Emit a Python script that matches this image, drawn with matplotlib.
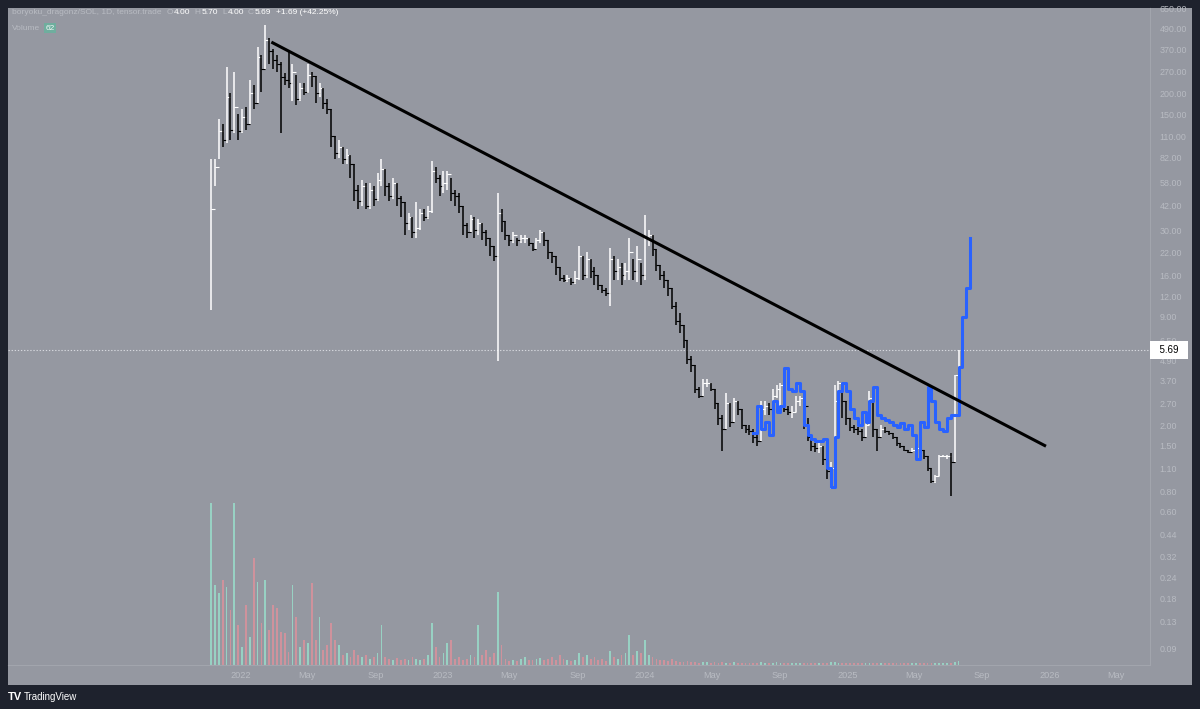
import numpy as np
import pandas as pd
import matplotlib
matplotlib.use("Agg")
import matplotlib.pyplot as plt
import matplotlib.dates as mdates
from matplotlib.collections import LineCollection
from matplotlib.patches import Rectangle
from matplotlib.ticker import NullLocator
import matplotlib.transforms as mtransforms

plt.rcParams["font.family"] = ["Liberation Sans", "DejaVu Sans"]

# weekly closes / lows / highs of boryoku_dragonz/SOL
week_start = "2021-11-08"
closes = [
    40, 72, 118, 105, 190, 120, 165, 118, 145, 130,
    200, 175, 330, 280, 420, 360, 320, 300, 250, 240,
    230, 270, 185, 215, 205, 260, 255, 200, 215, 175,
    160, 110, 88, 95, 80, 85, 75, 52, 45, 55,
    42, 52, 46, 60, 70, 55, 48, 58, 47, 44,
    33, 36, 29, 31, 38, 36, 39, 68, 62, 55,
    58, 65, 50, 48, 42, 32, 29, 35, 30, 33,
    29, 27, 24, 21, 38, 34, 28, 26, 28, 26,
    27, 27, 25, 23, 26, 29, 26, 22, 21, 18,
    15.5, 15, 15.5, 14.5, 15.5, 21, 16, 20, 17, 16,
    14, 13, 12.5, 20, 17, 18, 16, 17, 22, 17,
    20, 16, 27, 28, 23, 18.5, 16, 15, 13.5, 10.5,
    8.5, 8, 6.5, 5, 4.6, 3.3, 3.0, 3.6, 3.6, 3.3,
    2.7, 2.2, 1.9, 2.7, 2.1, 2.8, 2.5, 2.0, 1.9, 1.85,
    1.7, 1.6, 2.5, 2.6, 2.5, 3.0, 3.3, 3.5, 2.5, 2.4,
    2.4, 2.8, 2.9, 2.6, 1.7, 1.5, 1.45, 1.5, 1.25, 1.05,
    1.1, 2.8, 3.6, 2.8, 2.2, 1.95, 1.9, 1.85, 1.7, 2.0,
    2.9, 1.9, 1.7, 1.9, 1.85, 1.8, 1.7, 1.55, 1.5, 1.42,
    1.38, 1.42, 1.45, 1.42, 1.3, 1.1, 0.92, 0.98, 1.3, 1.3,
    1.3, 1.2, 4.0, 5.69,
]
lows = [
    9.9, 55, 80, 95, 100, 105, 115, 105, 115, 120,
    130, 160, 175, 205, 280, 300, 280, 270, 115, 225,
    215, 180, 170, 180, 195, 200, 220, 175, 190, 160,
    150, 95, 80, 82, 75, 75, 62, 45, 40, 42,
    40, 40, 42, 45, 55, 48, 45, 46, 42, 36,
    28, 30, 27, 27, 30, 34, 35, 38, 58, 48,
    50, 52, 45, 42, 38, 28, 27, 29, 27, 28,
    26, 24, 21, 19.5, 4.9, 29, 26, 24, 25, 24,
    25, 25, 24, 22.5, 23, 25, 24, 20, 19, 16,
    14.8, 14.5, 14.5, 14, 14.2, 15, 15, 15.5, 15.5, 14,
    13, 12.5, 12, 10.5, 15, 15, 14, 15, 15, 15,
    14.5, 14, 15, 24, 21, 17, 15, 13.5, 12, 10,
    8, 7.2, 5.8, 4.7, 4.2, 3.1, 2.9, 3.0, 3.4, 3.2,
    2.5, 2.0, 1.4, 1.9, 1.95, 2.1, 2.3, 1.9, 1.8, 1.75,
    1.55, 1.5, 1.6, 2.3, 2.3, 2.5, 2.9, 2.5, 2.4, 2.3,
    2.2, 2.4, 2.6, 1.9, 1.6, 1.4, 1.38, 1.35, 1.15, 0.95,
    0.82, 1.1, 2.8, 2.2, 2.0, 1.85, 1.8, 1.75, 1.6, 1.7,
    2.0, 1.7, 1.4, 1.7, 1.8, 1.75, 1.65, 1.5, 1.45, 1.4,
    1.36, 1.38, 1.4, 1.38, 1.25, 1.05, 0.9, 0.9, 0.98, 1.28,
    1.25, 0.75, 1.2, 4.0,
]
highs = [
    80, 80, 140, 130, 290, 200, 270, 150, 160, 165,
    240, 225, 380, 340, 520, 430, 370, 340, 310, 265,
    360, 300, 260, 230, 230, 300, 270, 255, 230, 215,
    185, 160, 110, 105, 95, 92, 85, 75, 56, 60,
    58, 58, 55, 66, 80, 70, 58, 62, 58, 48,
    44, 38, 36, 44, 40, 40, 42, 78, 72, 64,
    68, 68, 62, 52, 50, 42, 33, 37, 36, 35,
    33, 30, 27, 24, 50, 40, 34, 28, 29, 27,
    28, 28, 27, 25, 27, 30, 29, 26, 22, 21,
    18, 16, 16, 15.5, 17, 24, 21, 22, 20, 18,
    16, 14, 13.5, 23.5, 21, 20, 19, 19, 27, 20,
    24, 19, 37, 30, 28, 23, 18.5, 17, 15, 13.5,
    11, 9.5, 8, 6.5, 5.2, 4.6, 3.4, 3.8, 3.8, 3.6,
    3.3, 2.7, 2.3, 3.1, 2.7, 2.9, 2.8, 2.5, 2.0, 2.0,
    1.9, 1.8, 2.8, 2.8, 2.7, 3.3, 3.5, 3.6, 3.0, 2.6,
    2.6, 3.0, 3.0, 2.9, 2.2, 1.7, 1.55, 1.6, 1.5, 1.25,
    1.2, 3.5, 3.7, 3.6, 2.8, 2.2, 2.0, 1.95, 1.9, 2.1,
    3.2, 2.9, 1.9, 2.0, 1.95, 1.85, 1.8, 1.7, 1.55, 1.5,
    1.42, 1.45, 1.48, 1.45, 1.42, 1.3, 1.1, 1.0, 1.32, 1.32,
    1.32, 1.35, 4.0, 5.70,
]

volume = [
    162, 80, 72, 85, 78, 55, 162, 40, 18, 60,
    28, 107, 83, 42, 85, 35, 60, 57, 33, 32,
    13, 80, 48, 18, 25, 22, 82, 25, 48, 15,
    20, 42, 25, 20, 10, 12, 8, 15, 10, 8,
    10, 6, 8, 12, 40, 8, 6, 5, 7, 5,
    6, 5, 8, 6, 5, 6, 10, 42, 18, 8,
    12, 22, 25, 6, 8, 5, 6, 10, 8, 40,
    10, 15, 8, 12, 73, 20, 6, 4, 5, 4,
    6, 8, 5, 5, 6, 7, 5, 6, 8, 5,
    10, 6, 5, 4, 5, 12, 8, 10, 6, 8,
    5, 6, 4, 14, 8, 6, 10, 12, 30, 10,
    14, 12, 25, 10, 8, 6, 5, 5, 4, 6,
    4, 3, 3, 4, 3, 3, 2, 3, 3, 2,
    3, 2, 3, 2, 2, 3, 2, 2, 2, 2,
    2, 2, 3, 2, 2, 2, 3, 2, 2, 2,
    2, 2, 2, 2, 2, 2, 2, 2, 2, 2,
    3, 3, 2, 2, 2, 2, 2, 2, 2, 2,
    2, 2, 2, 2, 2, 2, 2, 2, 2, 2,
    2, 2, 2, 2, 2, 2, 2, 2, 2, 2,
    2, 2, 3, 4,
]

# blue overlay series
overlay_start = "2024-07-15"
overlay = [
    1.8, 2.6, 1.9, 2.1, 1.75, 2.8, 2.4, 2.6, 4.4, 3.3,
    3.2, 3.6, 3.2, 2.0, 1.75, 1.65, 1.6, 1.6, 1.65, 1.1,
    0.85, 1.7, 3.2, 3.6, 3.2, 2.5, 2.2, 2.0, 2.4, 2.1,
    2.8, 3.4, 2.3, 2.2, 2.15, 2.1, 2.0, 1.95, 2.05, 1.9,
    2.0, 1.75, 1.25, 2.1, 1.95, 3.4, 2.8, 2.1, 1.9, 1.85,
    2.2, 2.3, 2.3, 4.5, 9.0, 13.5, 27,
]

trend_dates = ["2022-02-25", "2025-12-26"]
trend_prices = [408, 1.49]

last_price = 5.69
price_ticks = [650, 490, 370, 270, 200, 150, 110, 82, 58, 42, 30, 22, 16, 12, 9, 6.5,
               4.9, 3.7, 2.7, 2.0, 1.5, 1.1, 0.8, 0.6, 0.44, 0.32, 0.24, 0.18, 0.13, 0.09]
time_ticks = ["2022-01-01", "2022-05-01", "2022-09-01", "2023-01-01", "2023-05-01", "2023-09-01",
              "2024-01-01", "2024-05-01", "2024-09-01", "2025-01-01", "2025-05-01", "2025-09-01",
              "2026-01-01", "2026-05-01"]
time_labels = ["2022", "May", "Sep", "2023", "May", "Sep", "2024", "May", "Sep",
               "2025", "May", "Sep", "2026", "May"]

BG = "#9598a1"
DARK = "#1e222d"
LABEL = "#b8bbc2"
UP, DOWN = "#ffffff", "#000000"

W, H = 1200, 709
fig = plt.figure(figsize=(W / 100, H / 100), dpi=100, facecolor=DARK)
fig.patches.append(Rectangle((8 / W, 24 / H), 1184 / W, 677 / H, transform=fig.transFigure,
                             facecolor=BG, edgecolor="none", zorder=-10))
rect = [8 / W, 44 / H, 1142 / W, 657 / H]
vax = fig.add_axes(rect)
ax = fig.add_axes(rect, sharex=vax)
vax.patch.set_alpha(0)
ax.patch.set_alpha(0)

dates = pd.date_range(week_start, periods=len(closes), freq="7D")
xd = mdates.date2num(dates)

# volume pane
vol_colors = ["#98d1c3" if (i == 0 or closes[i] >= closes[i - 1]) else "#cf929c"
              for i in range(len(closes))]
vax.bar(dates, volume, width=3.2, color=vol_colors, linewidth=0)
vax.set_ylim(0, 657)
vax.axis("off")

# price: candle ranges plus step connectors
segs, cols, widths = [], [], []
for i, c in enumerate(closes):
    o = closes[i - 1] if i > 0 else c
    col = UP if c >= o else DOWN
    segs.append([(xd[i], lows[i]), (xd[i], highs[i])])
    cols.append(col)
    widths.append(1.1)
    if i + 1 < len(closes):
        segs.append([(xd[i], c), (xd[i + 1], c)])
        cols.append(col)
        widths.append(0.8)
ax.add_collection(LineCollection(segs, colors=cols, linewidths=widths, zorder=3))

odates = pd.date_range(overlay_start, periods=len(overlay), freq="7D")
ax.plot(odates, overlay, drawstyle="steps-post", color="#2962ff", lw=2.2, zorder=4)

ax.plot(pd.to_datetime(trend_dates), trend_prices, color="black", lw=2.2, zorder=5,
        solid_capstyle="butt")

ax.axhline(last_price, color="#d6d8de", lw=0.8, ls=(0, (1.2, 1.6)), zorder=2)

ax.set_yscale("log")
ax.set_ylim(0.0714, 655)
ax.set_xlim(pd.Timestamp("2020-11-06"), pd.Timestamp("2026-07-02"))
ax.yaxis.tick_right()
ax.set_yticks(price_ticks)
ax.set_yticklabels([f"{v:.2f}" for v in price_ticks])
ax.yaxis.set_minor_locator(NullLocator())
ax.set_xticks(pd.to_datetime(time_ticks))
ax.set_xticklabels(time_labels)
ax.xaxis.set_minor_locator(NullLocator())
ax.tick_params(axis="y", length=0, labelsize=6.4, labelcolor=LABEL, pad=7)
ax.tick_params(axis="x", length=0, labelsize=6.6, labelcolor=LABEL, pad=4)
for s in ["top", "left"]:
    ax.spines[s].set_visible(False)
for s in ["right", "bottom"]:
    ax.spines[s].set_color("#a2a5ad")
    ax.spines[s].set_linewidth(0.8)

# last price label
tr = mtransforms.blended_transform_factory(ax.transAxes, ax.transData)
ax.text(1.0 + 4 / 1142, last_price, "  5.69  ", transform=tr, ha="left", va="center",
        fontsize=7, color="black", zorder=10, clip_on=False,
        bbox=dict(boxstyle="square,pad=0.4", facecolor="white", edgecolor="none"))

# header, pieces laid out one after another
renderer = fig.canvas.get_renderer()


def run(x, y, pieces, size=6.0):
    for s, color, gap, box in pieces:
        t = fig.text(x / W, 1 - y / H, s, va="center", ha="left", fontsize=size, color=color,
                     bbox=box)
        x += t.get_window_extent(renderer).width + gap


run(12, 13, [("boryoku_dragonz/SOL, 1D, tensor.trade", LABEL, 5, None),
             ("O", LABEL, 1, None), ("4.00", "white", 4, None),
             ("H", LABEL, 1, None), ("5.70", "white", 4, None),
             ("L", LABEL, 1, None), ("4.00", "white", 4, None),
             ("C", LABEL, 1, None), ("5.69", "white", 5, None),
             ("+1.69 (+42.25%)", "white", 0, None)])
run(12, 28, [("Volume", LABEL, 5, None),
             ("62", "#eef8f5", 0, dict(boxstyle="square,pad=0.15", facecolor="#6fae9e",
                                       edgecolor="none"))])

fig.text(8 / W, 1 - 697 / H, "TV", va="center", ha="left", fontsize=8, color="white",
         fontweight="bold")
fig.text(24 / W, 1 - 697 / H, "TradingView", va="center", ha="left", fontsize=7, color="white")

fig.savefig("out.png", dpi=100, facecolor=DARK)
